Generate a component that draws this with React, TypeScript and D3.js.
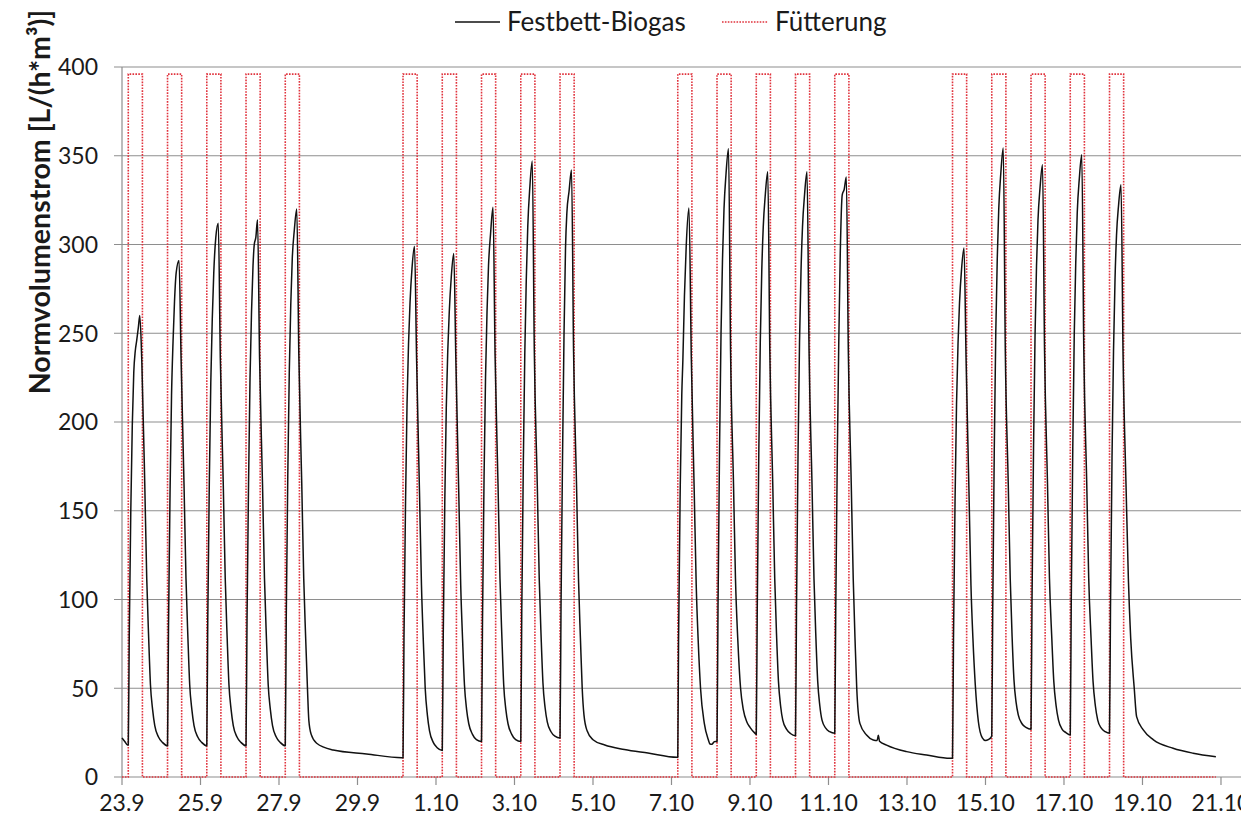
import * as d3 from "d3";

// x axis: days counted from 23.9 00:00
const xTickDays = [0, 2, 4, 6, 8, 10, 12, 14, 16, 18, 20, 22, 24, 26, 28];
const xTickLabels = ["23.9", "25.9", "27.9", "29.9", "1.10", "3.10", "5.10", "7.10", "9.10", "11.10", "13.10", "15.10", "17.10", "19.10", "21.10"];
const yTicks = [0, 50, 100, 150, 200, 250, 300, 350, 400];

// Fütterung: on/off times (days) and level
const feedOn = [0.16, 1.16, 2.16, 3.16, 4.16, 7.16, 8.16, 9.16, 10.16, 11.16, 14.16, 15.16, 16.16, 17.16, 18.16, 21.16, 22.16, 23.16, 24.16, 25.16];
const feedOff = [0.52, 1.52, 2.52, 3.52, 4.52, 7.52, 8.52, 9.52, 10.52, 11.52, 14.52, 15.52, 16.52, 17.52, 18.52, 21.52, 22.52, 23.52, 24.52, 25.52];
const feedLevel = 396;
const feedEnd = 27.87;

// Festbett-Biogas [day, L/(h*m³)]
const biogasWeek1: [number, number][] = [
  [0.0, 22], [0.07, 20], [0.14, 18],
  [0.16, 18], [0.185, 80], [0.224, 150], [0.262, 198], [0.3, 228], [0.338, 240], [0.375, 246], [0.415, 253], [0.453, 260], [0.505, 234], [0.58, 165], [0.63, 112], [0.68, 78], [0.725, 52], [0.78, 38], [0.835, 29], [0.93, 22.5], [1.03, 19.5],
  [1.16, 17.6], [1.185, 85], [1.224, 160], [1.262, 215], [1.3, 245], [1.338, 268], [1.38, 284], [1.453, 291], [1.505, 236], [1.58, 165], [1.63, 112], [1.68, 78], [1.725, 52], [1.78, 38], [1.835, 29], [1.93, 22.5], [2.03, 19.5],
  [2.16, 17.6], [2.185, 88], [2.224, 165], [2.262, 222], [2.3, 258], [2.338, 284], [2.39, 304], [2.453, 312], [2.505, 236], [2.58, 165], [2.63, 112], [2.68, 78], [2.725, 52], [2.78, 38], [2.835, 29], [2.93, 22.5], [3.03, 19.5],
  [3.16, 17.6], [3.185, 88], [3.224, 165], [3.262, 225], [3.3, 262], [3.338, 288], [3.37, 300], [3.41, 304], [3.453, 314], [3.505, 236], [3.58, 165], [3.63, 112], [3.68, 78], [3.725, 52], [3.78, 38], [3.835, 29], [3.93, 22.5], [4.03, 19.5],
  [4.16, 17.6], [4.185, 90], [4.224, 170], [4.262, 228], [4.3, 266], [4.338, 292], [4.39, 308], [4.453, 320], [4.505, 238], [4.58, 165], [4.63, 112], [4.68, 78], [4.725, 50], [4.76, 32], [4.82, 24], [4.96, 19], [5.38, 15.2], [6.23, 13], [7.13, 10.9],
];

const biogasWeek2: [number, number][] = [
  [7.16, 10.9], [7.185, 80], [7.224, 155], [7.262, 210], [7.3, 244], [7.338, 267], [7.39, 287], [7.453, 299], [7.505, 236], [7.58, 160], [7.63, 108], [7.68, 75], [7.725, 50], [7.78, 35], [7.835, 26], [7.93, 19.5], [8.03, 16.5],
  [8.16, 15], [8.185, 80], [8.224, 155], [8.262, 208], [8.3, 240], [8.338, 262], [8.39, 282], [8.453, 295], [8.505, 236], [8.58, 160], [8.63, 108], [8.68, 76], [8.725, 52], [8.78, 38], [8.835, 30], [8.93, 24], [9.03, 21],
  [9.16, 20], [9.185, 88], [9.224, 168], [9.262, 225], [9.3, 262], [9.338, 288], [9.39, 306], [9.453, 321], [9.505, 238], [9.58, 165], [9.63, 112], [9.68, 78], [9.725, 52], [9.78, 38], [9.835, 30], [9.93, 24], [10.03, 21],
  [10.16, 20], [10.185, 92], [10.224, 175], [10.262, 238], [10.3, 280], [10.338, 310], [10.39, 332], [10.453, 347], [10.505, 240], [10.58, 165], [10.63, 112], [10.68, 78], [10.725, 53], [10.78, 39], [10.835, 31], [10.93, 25.5], [11.03, 23],
  [11.16, 22], [11.185, 95], [11.224, 180], [11.262, 250], [11.3, 298], [11.335, 318], [11.39, 330], [11.453, 342], [11.505, 240], [11.58, 165], [11.63, 112], [11.68, 78], [11.725, 50], [11.77, 35], [11.85, 26], [12.0, 21], [12.3, 18], [12.8, 15.5], [13.4, 13.5], [14.14, 11.1],
];

const biogasWeek3: [number, number][] = [
  [14.16, 11.1], [14.18, 77], [14.224, 165], [14.262, 215], [14.29, 235], [14.33, 271], [14.375, 299], [14.445, 320.5], [14.505, 236], [14.58, 160], [14.63, 108], [14.68, 77], [14.74, 50], [14.835, 30.4], [14.94, 20.9], [14.98, 18.6], [15.03, 18.4], [15.09, 19.9],
  [15.16, 20], [15.185, 95], [15.224, 185], [15.262, 250], [15.3, 292], [15.338, 320], [15.39, 340], [15.453, 354], [15.505, 240], [15.58, 165], [15.63, 112], [15.69, 77], [15.76, 50], [15.83, 38], [15.92, 31], [16.0, 28], [16.13, 24.6],
  [16.16, 24], [16.185, 95], [16.224, 182], [16.262, 245], [16.3, 285], [16.338, 310], [16.39, 328], [16.453, 341], [16.505, 240], [16.58, 165], [16.63, 112], [16.68, 78], [16.725, 54], [16.78, 40], [16.835, 32], [16.93, 27], [17.03, 24.5],
  [17.16, 23.3], [17.185, 95], [17.224, 182], [17.262, 245], [17.3, 285], [17.338, 310], [17.39, 328], [17.453, 341], [17.505, 240], [17.58, 165], [17.63, 112], [17.68, 78], [17.725, 54], [17.78, 40], [17.835, 32], [17.93, 27.5], [18.03, 25.5],
  [18.16, 24.6], [18.185, 95], [18.224, 180], [18.262, 245], [18.3, 295], [18.35, 328], [18.4, 331], [18.455, 338], [18.505, 240], [18.58, 165], [18.63, 112], [18.68, 75], [18.72, 50], [18.8, 30.2], [18.97, 23.7], [19.14, 20.9], [19.24, 20.6], [19.27, 23.5], [19.3, 20.2], [19.48, 18], [19.99, 14.3], [20.5, 12.4], [21.1, 10.5],
];

const biogasWeek4: [number, number][] = [
  [21.16, 10.5], [21.185, 78], [21.224, 155], [21.262, 210], [21.3, 244], [21.338, 267], [21.39, 286], [21.453, 298], [21.505, 236], [21.58, 160], [21.63, 108], [21.68, 78], [21.74, 52], [21.82, 31], [21.92, 22], [22.0, 20.5], [22.07, 21],
  [22.16, 23], [22.185, 95], [22.224, 185], [22.262, 250], [22.3, 292], [22.338, 320], [22.39, 340], [22.453, 354.4], [22.505, 240], [22.58, 165], [22.63, 112], [22.68, 78], [22.725, 55], [22.78, 42], [22.835, 35], [22.93, 30], [23.03, 28],
  [23.16, 26.9], [23.185, 98], [23.224, 185], [23.262, 248], [23.3, 288], [23.338, 314], [23.39, 332], [23.453, 345], [23.505, 240], [23.58, 165], [23.63, 112], [23.69, 78], [23.74, 54], [23.8, 40], [23.86, 32], [23.95, 27], [24.05, 25],
  [24.16, 23.7], [24.185, 98], [24.224, 185], [24.262, 250], [24.3, 290], [24.338, 318], [24.39, 337], [24.453, 350.6], [24.505, 240], [24.58, 165], [24.63, 112], [24.69, 78], [24.74, 54], [24.8, 40], [24.86, 32], [24.95, 27.5], [25.05, 25.5],
  [25.16, 24.6], [25.185, 95], [25.224, 180], [25.262, 240], [25.3, 280], [25.338, 305], [25.39, 322], [25.453, 333.7], [25.505, 238], [25.58, 165], [25.64, 112], [25.7, 78], [25.79, 50], [25.85, 34], [26.02, 26.5], [26.28, 20.9], [26.78, 16.2], [27.29, 13.4], [27.87, 11.4],
];

const width = 1241;
const height = 823;
const margin = { top: 67, right: 0, bottom: 46, left: 122 };
const font = "Lato, 'Open Sans', sans-serif";
const gridColor = "#8e8e8e";
const feedColor = "#e0333d";

export default function App() {
  const x = d3.scaleLinear().domain([0, 28.51]).range([margin.left, width - margin.right]);
  const y = d3.scaleLinear().domain([0, 400]).range([height - margin.bottom, margin.top]);
  const bottomY = height - margin.bottom;

  const biogas = [...biogasWeek1, ...biogasWeek2, ...biogasWeek3, ...biogasWeek4];
  const line = d3
    .line<[number, number]>()
    .x(d => x(d[0]))
    .y(d => y(d[1]))
    .curve(d3.curveMonotoneX);

  // step table for the feeding signal
  const feed: [number, number][] = [[0, 0]];
  feedOn.forEach((t, i) => {
    feed.push([t, feedLevel]);
    feed.push([feedOff[i], 0]);
  });
  feed.push([feedEnd, 0]);
  const feedLine = d3
    .line<[number, number]>()
    .x(d => x(d[0]))
    .y(d => y(d[1]))
    .curve(d3.curveStepAfter);

  return (
    <svg
      width={width}
      height={height}
      style={{ position: "absolute", left: 0, top: 0, background: "#fff", display: "block" }}
    >
      {/* horizontal grid + y ticks */}
      {yTicks.map(t => (
        <g key={t}>
          <line x1={margin.left - 8} x2={width} y1={y(t)} y2={y(t)} stroke={gridColor} strokeWidth={1.2} />
          <text
            x={margin.left - 24}
            y={y(t)}
            dy="0.36em"
            textAnchor="end"
            fontSize={23}
            fontFamily={font}
            fill="#1a1a1a"
          >
            {t}
          </text>
        </g>
      ))}

      {/* y axis line */}
      <line x1={margin.left} x2={margin.left} y1={margin.top} y2={bottomY} stroke={gridColor} strokeWidth={1.2} />

      {/* x ticks */}
      {xTickDays.map((d, i) => (
        <g key={d}>
          <line x1={x(d)} x2={x(d)} y1={bottomY} y2={bottomY + 8} stroke={gridColor} strokeWidth={1.2} />
          <text x={x(d)} y={bottomY + 34} textAnchor="middle" fontSize={23} fontFamily={font} fill="#1a1a1a">
            {xTickLabels[i]}
          </text>
        </g>
      ))}

      {/* y axis title */}
      <text
        transform={`translate(50, 202) rotate(-90)`}
        textAnchor="middle"
        fontSize={28.5}
        fontWeight="bold"
        fontFamily={font}
        fill="#1a1a1a"
      >
        Normvolumenstrom [L/(h*m³)]
      </text>

      {/* feeding */}
      <path d={feedLine(feed) ?? ""} fill="none" stroke={feedColor} strokeWidth={1.6} strokeDasharray="1.6 1.3" />

      {/* biogas */}
      <path d={line(biogas) ?? ""} fill="none" stroke="#111" strokeWidth={1.5} strokeLinejoin="round" />

      {/* legend */}
      <line x1={455} x2={500} y1={22} y2={22} stroke="#111" strokeWidth={1.5} />
      <text x={507} y={31} fontSize={26} fontFamily={font} fill="#1a1a1a">Festbett-Biogas</text>
      <line x1={722} x2={768} y1={22} y2={22} stroke={feedColor} strokeWidth={1.6} strokeDasharray="1.6 1.3" />
      <text x={775} y={31} fontSize={26} fontFamily={font} fill="#1a1a1a">Fütterung</text>
    </svg>
  );
}
